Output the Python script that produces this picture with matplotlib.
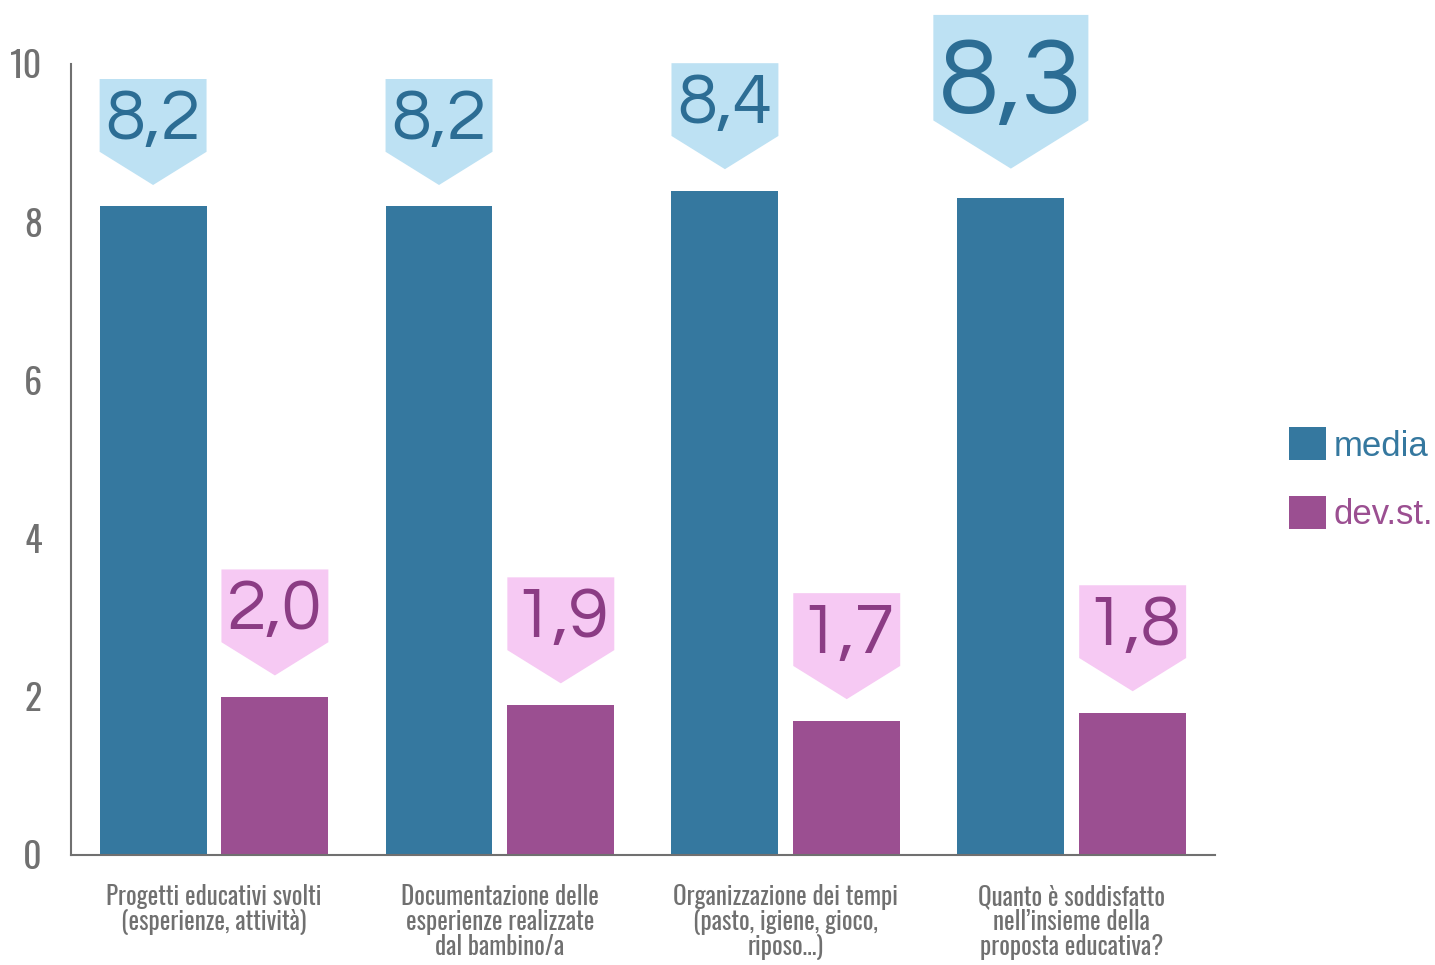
import matplotlib.pyplot as plt
import numpy as np
from matplotlib.patches import Polygon

categorie = ['Progetti educativi svolti\n(esperienze, attività)',
             'Documentazione delle\nesperienze realizzate\ndal bambino/a',
             'Organizzazione dei tempi\n(pasto, igiene, gioco,\nriposo…)',
             'Quanto è soddisfatto\nnell’insieme della\nproposta educativa?']
media = [8.2, 8.2, 8.4, 8.3]
devst = [2.0, 1.9, 1.7, 1.8]
etich_media = ['8,2', '8,2', '8,4', '8,3']
etich_dev = ['2,0', '1,9', '1,7', '1,8']
scala_media = [1.0, 1.0, 1.0, 1.45]   # il badge dell'ultima media e' piu' grande
scala_dev = [1.0, 1.0, 1.0, 1.0]

col_media = '#35789f'
col_dev = '#9b4f91'
col_badge_media = '#bde1f3'
col_badge_dev = '#f6c9f3'
col_testo_media = '#2c6d94'
col_testo_dev = '#8b3c84'
grigio = '#707070'

fig = plt.figure(figsize=(14.35, 9.65), dpi=100)
ax = fig.add_axes([0.0495, 0.114, 0.797, 0.8197])

x = np.arange(len(categorie))
w = 0.374
off = 0.213
ax.bar(x - off, media, w, color=col_media, label='media')
ax.bar(x + off, devst, w, color=col_dev, label='dev.st.')

def badge(xc, val, testo, s, fc, tc):
    gap = 0.27 * s ** 0.9
    punta = 0.42 * s
    rett = 0.92 * s
    half = w / 2 * s
    y0 = val + gap
    pts = [(xc, y0), (xc - half, y0 + punta), (xc - half, y0 + punta + rett),
           (xc + half, y0 + punta + rett), (xc + half, y0 + punta)]
    ax.add_patch(Polygon(pts, closed=True, facecolor=fc, edgecolor='none', clip_on=False, zorder=3))
    ax.text(xc, y0 + punta + rett / 2 - (0.06 + 0.38 * (s - 1)), testo, ha='center', va='center',
            fontsize=52 * s ** 1.1, color=tc, family='Questrial', zorder=4)

for i in range(len(x)):
    badge(x[i] - off, media[i], etich_media[i], scala_media[i], col_badge_media, col_testo_media)
    badge(x[i] + off, devst[i], etich_dev[i], scala_dev[i], col_badge_dev, col_testo_dev)

ax.set_xlim(-0.5, 3.5)
ax.set_ylim(0, 10)
ax.set_yticks([0, 2, 4, 6, 8, 10])
ax.set_xticks(x)
ax.set_xticklabels(categorie, family='Oswald', fontsize=18, color=grigio, linespacing=0.95)
for t in ax.get_yticklabels():
    t.set_family('Oswald')
    t.set_fontsize(26)
    t.set_color(grigio)
ax.tick_params(axis='both', length=0)
ax.tick_params(axis='y', pad=21)
ax.tick_params(axis='x', pad=21)
for s in ['top', 'right']:
    ax.spines[s].set_visible(False)
for s in ['left', 'bottom']:
    ax.spines[s].set_color(grigio)
    ax.spines[s].set_linewidth(1.5)

leg = ax.legend(loc='upper left', bbox_to_anchor=(0.898, 0.557), bbox_transform=fig.transFigure,
                frameon=False, handlelength=1.07, handleheight=1.07, borderpad=0, borderaxespad=0,
                handletextpad=0.22, labelspacing=0.97, labelcolor=[col_media, col_dev],
                prop={'family': 'Liberation Sans', 'size': 25})

fig.savefig('out.png', dpi=100)
